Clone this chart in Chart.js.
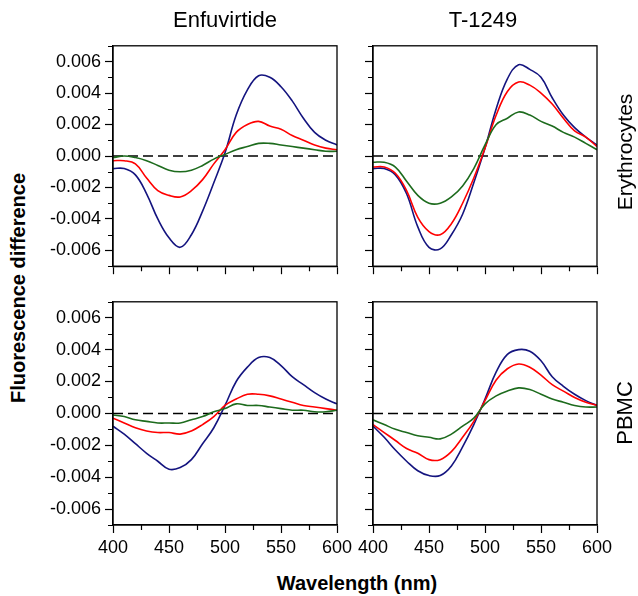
<!DOCTYPE html>
<html>
<head>
<meta charset="utf-8">
<script src="https://cdn.jsdelivr.net/npm/chart.js@4"></script>
<style>
body { margin: 0; background: #fff; }
#wrap { position: relative; width: 638px; height: 596px; font-family: "Liberation Sans", Arial, sans-serif; color: #000; overflow: hidden; }
canvas { position: absolute; }
.lbl { position: absolute; white-space: nowrap; transform: translate(-50%, -50%); }
.rot { transform: translate(-50%, -50%) rotate(-90deg); }
</style>
</head>
<body>
<div id="wrap">
  <canvas id="pTL"></canvas>
  <canvas id="pTR"></canvas>
  <canvas id="pBL"></canvas>
  <canvas id="pBR"></canvas>
  <div class="lbl" style="left:225px;top:20px;font-size:22px;">Enfuvirtide</div>
  <div class="lbl" style="left:483px;top:20px;font-size:22px;">T-1249</div>
  <div class="lbl rot" style="left:625px;top:152px;font-size:21px;">Erythrocytes</div>
  <div class="lbl rot" style="left:625px;top:413px;font-size:22px;">PBMC</div>
  <div class="lbl rot" style="left:18px;top:288px;font-size:20px;font-weight:bold;">Fluorescence difference</div>
  <div class="lbl" style="left:357px;top:583px;font-size:20px;font-weight:bold;">Wavelength (nm)</div>
</div>
<script>
// wavelength (nm)
const wavelengths = [400, 410, 420, 430, 440, 450, 460, 470, 480, 490, 500, 510, 520, 530, 540, 550, 560, 570, 580, 590, 600];

// Enfuvirtide - Erythrocytes
const enfErythBlue  = [-0.0008, -0.0008, -0.0012, -0.0024, -0.0040, -0.0052, -0.0058, -0.0050, -0.0035, -0.0017, 0.0002, 0.0026, 0.0042, 0.0051, 0.0050, 0.0044, 0.0035, 0.0024, 0.0015, 0.0010, 0.0007];
const enfErythRed   = [-0.0003, -0.0003, -0.0005, -0.0014, -0.0022, -0.0025, -0.0026, -0.0022, -0.0015, -0.0005, 0.0004, 0.0015, 0.0020, 0.0022, 0.0019, 0.0017, 0.0013, 0.0010, 0.0007, 0.0005, 0.0004];
const enfErythGreen = [-0.0001, 0.0000, -0.0001, -0.0003, -0.0006, -0.0009, -0.0010, -0.0009, -0.0006, -0.0002, 0.0001, 0.0004, 0.0006, 0.0008, 0.0008, 0.0007, 0.0006, 0.0005, 0.0004, 0.0003, 0.0003];

// T-1249 - Erythrocytes
const t1249ErythBlue  = [-0.0008, -0.0008, -0.0012, -0.0024, -0.0045, -0.0058, -0.0059, -0.0050, -0.0037, -0.0017, 0.0005, 0.0030, 0.0049, 0.0058, 0.0055, 0.0050, 0.0037, 0.0026, 0.0018, 0.0012, 0.0007];
const t1249ErythRed   = [-0.0007, -0.0007, -0.0011, -0.0022, -0.0039, -0.0048, -0.0050, -0.0043, -0.0030, -0.0014, 0.0005, 0.0026, 0.0041, 0.0047, 0.0045, 0.0040, 0.0033, 0.0024, 0.0016, 0.0012, 0.0006];
const t1249ErythGreen = [-0.0004, -0.0004, -0.0007, -0.0016, -0.0025, -0.0030, -0.0030, -0.0026, -0.0019, -0.0008, 0.0007, 0.0020, 0.0024, 0.0028, 0.0026, 0.0022, 0.0019, 0.0015, 0.0012, 0.0008, 0.0004];

// Enfuvirtide - PBMC
const enfPbmcBlue  = [-0.0008, -0.0013, -0.0019, -0.0025, -0.0030, -0.0035, -0.0034, -0.0029, -0.0019, -0.0009, 0.0005, 0.0020, 0.0029, 0.0035, 0.0035, 0.0030, 0.0023, 0.0018, 0.0013, 0.0009, 0.0006];
const enfPbmcRed   = [-0.0003, -0.0006, -0.0009, -0.0011, -0.0012, -0.0012, -0.0013, -0.0011, -0.0007, -0.0002, 0.0005, 0.0009, 0.0012, 0.0012, 0.0011, 0.0009, 0.0007, 0.0005, 0.0004, 0.0003, 0.0002];
const enfPbmcGreen = [-0.0001, -0.0002, -0.0004, -0.0005, -0.0006, -0.0006, -0.0006, -0.0004, -0.0002, 0.0001, 0.0003, 0.0006, 0.0005, 0.0005, 0.0004, 0.0003, 0.0002, 0.0002, 0.0001, 0.0001, 0.0002];

// T-1249 - PBMC
const t1249PbmcBlue  = [-0.0008, -0.0015, -0.0023, -0.0030, -0.0036, -0.0039, -0.0039, -0.0033, -0.0021, -0.0007, 0.0009, 0.0026, 0.0037, 0.0040, 0.0039, 0.0033, 0.0023, 0.0017, 0.0012, 0.0008, 0.0005];
const t1249PbmcRed   = [-0.0007, -0.0012, -0.0017, -0.0022, -0.0025, -0.0029, -0.0029, -0.0024, -0.0015, -0.0005, 0.0008, 0.0021, 0.0028, 0.0031, 0.0029, 0.0024, 0.0018, 0.0014, 0.0010, 0.0007, 0.0005];
const t1249PbmcGreen = [-0.0004, -0.0007, -0.0010, -0.0012, -0.0014, -0.0015, -0.0016, -0.0013, -0.0008, -0.0003, 0.0006, 0.0011, 0.0014, 0.0016, 0.0015, 0.0012, 0.0009, 0.0007, 0.0005, 0.0004, 0.0004];

// dashed zero line
const zeroLineX = [400, 600];
const zeroLineY = [0, 0];

Chart.defaults.font.family = '"Liberation Sans", Arial, sans-serif';
Chart.defaults.color = '#000';

const BLUE = '#14147f';
const RED = '#ff0000';
const GREEN = '#1d6b1d';

const isMajorX = v => v % 50 === 0;
const isMajorY = v => Math.round(v * 1000) % 2 === 0;

// box round the plot area + short minor ticks
const framePlugin = {
    id: 'frame',
    afterDatasetsDraw(chart) {
        const a = chart.chartArea, c = chart.ctx;
        c.save();
        c.strokeStyle = '#000';
        c.lineWidth = 1.3;
        c.strokeRect(a.left, a.top, a.right - a.left, a.bottom - a.top);
        c.lineWidth = 1.2;
        c.beginPath();
        const sx = chart.scales.x, sy = chart.scales.y;
        sx.ticks.forEach(t => {
            if (isMajorX(t.value)) return;
            const p = Math.round(sx.getPixelForValue(t.value)) + 0.5;
            c.moveTo(p, a.bottom); c.lineTo(p, a.bottom + 5);
        });
        sy.ticks.forEach(t => {
            if (isMajorY(t.value)) return;
            const p = Math.round(sy.getPixelForValue(t.value)) + 0.5;
            c.moveTo(a.left, p); c.lineTo(a.left - 5, p);
        });
        c.stroke();
        c.restore();
    }
};

function pts(xs, ys) {
    return xs.map((x, i) => ({x: x, y: ys[i]}));
}

function makePanel(id, box, series, showX, showY) {
    const yw = 70, padTop = 12, padRight = 22;
    const xh = showX ? 34 : 14;
    const left = box[0] - yw, top = box[1] - padTop;
    const w = box[2] + padRight - left, h = box[3] + xh - top;
    const cv = document.getElementById(id);
    cv.width = w; cv.height = h;
    cv.style.left = left + 'px'; cv.style.top = top + 'px';
    cv.style.width = w + 'px'; cv.style.height = h + 'px';

    const line = (vals, col) => ({
        data: pts(wavelengths, vals), borderColor: col, borderWidth: 1.6,
        pointRadius: 0, tension: 0.4, fill: false
    });

    new Chart(cv, {
        type: 'line',
        data: {
            datasets: [
                line(series[2], GREEN),
                line(series[1], RED),
                line(series[0], BLUE),
                {
                    data: pts(zeroLineX, zeroLineY), borderColor: '#000', borderWidth: 1.5,
                    borderDash: [10, 5], pointRadius: 0, fill: false
                }
            ]
        },
        options: {
            responsive: false,
            animation: false,
            layout: { padding: { top: padTop, right: padRight, left: 0, bottom: 0 } },
            plugins: { legend: { display: false }, tooltip: { enabled: false } },
            scales: {
                x: {
                    type: 'linear', min: 400, max: 600,
                    afterFit: s => { s.height = xh; },
                    ticks: {
                        stepSize: 25, autoSkip: false, maxRotation: 0, padding: 4,
                        font: { size: 18 },
                        callback: v => (showX && isMajorX(v)) ? String(v) : ''
                    },
                    grid: {
                        drawOnChartArea: false, drawTicks: true, tickLength: 8, tickWidth: 1.2,
                        tickColor: ctx => (ctx.tick && isMajorX(ctx.tick.value)) ? '#000' : 'rgba(0,0,0,0)'
                    },
                    border: { display: true, color: '#000', width: 1.3 }
                },
                y: {
                    min: -0.007, max: 0.007,
                    afterFit: s => { s.width = yw; },
                    ticks: {
                        stepSize: 0.001, autoSkip: false, padding: 4, maxTicksLimit: 100,
                        font: { size: 18 },
                        callback: v => {
                            const k = Math.round(v * 1000);
                            return (showY && k % 2 === 0) ? (k / 1000).toFixed(3) : '';
                        }
                    },
                    grid: {
                        drawOnChartArea: false, drawTicks: true, tickLength: 8, tickWidth: 1.2,
                        tickColor: ctx => (ctx.tick && isMajorY(ctx.tick.value)) ? '#000' : 'rgba(0,0,0,0)'
                    },
                    border: { display: true, color: '#000', width: 1.3 }
                }
            }
        },
        plugins: [framePlugin]
    });
}

makePanel('pTL', [113, 43, 337, 267], [enfErythBlue, enfErythRed, enfErythGreen], false, true);
makePanel('pTR', [373, 43, 597, 267], [t1249ErythBlue, t1249ErythRed, t1249ErythGreen], false, false);
makePanel('pBL', [113, 299, 337, 525], [enfPbmcBlue, enfPbmcRed, enfPbmcGreen], true, true);
makePanel('pBR', [373, 299, 597, 525], [t1249PbmcBlue, t1249PbmcRed, t1249PbmcGreen], true, false);
</script>
</body>
</html>
